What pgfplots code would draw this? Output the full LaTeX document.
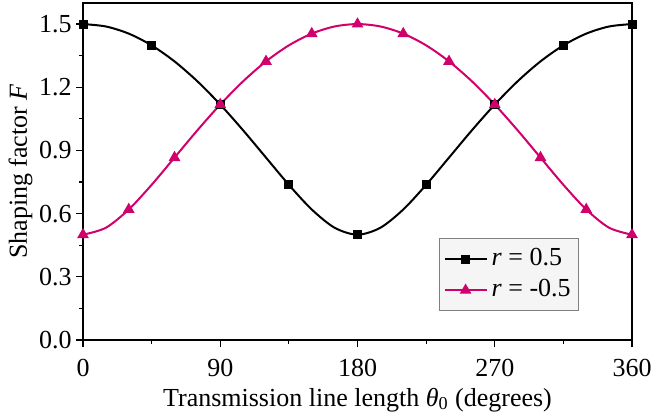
\documentclass[border=0pt]{standalone}
\usepackage{fontspec}
\setmainfont{LiberationSerif}[Extension=.ttf, UprightFont=*-Regular, BoldFont=*-Bold, ItalicFont=*-Italic, BoldItalicFont=*-BoldItalic]
\usepackage{pgfplots}
\pgfplotsset{compat=1.18}
\usetikzlibrary{calc}
\definecolor{mag}{RGB}{208,0,108}
\begin{document}
\fontsize{13}{15}\selectfont
\begin{tikzpicture}
\begin{axis}[
  name=ax,
  scale only axis,
  width=274.5pt, height=168.5pt,
  xmin=0, xmax=360, ymin=0, ymax=1.6,
  xtick={0,90,180,270,360},
  ytick={0,0.3,0.6,0.9,1.2,1.5},
  minor x tick num=1, minor y tick num=1,
  tick align=outside,
  xtick pos=left, ytick pos=left,
  major tick length=3.5pt, minor tick length=1.8pt,
  every tick/.style={black, line width=0.6pt},
  axis line style={line width=0.7pt},
  /pgf/number format/assume math mode=true,
  xticklabel style={yshift=-1.5pt},
  yticklabel style={/pgf/number format/.cd, fixed, fixed zerofill, precision=1, /tikz/.cd, inner xsep=2pt},
  xlabel={Transmission line length {\itshape θ}\textsubscript{0} (degrees)},
  ylabel={Shaping factor \textit{F}},
  xlabel style={at={(axis description cs:0.5,-0.196)}, anchor=base, inner sep=0pt},
  ylabel style={at={(axis description cs:-0.102,0.5)}, anchor=base, inner sep=0pt},
  legend style={at={(0.6485,0.3027)}, anchor=north west, draw=gray, fill=gray!8, line width=0.5pt, row sep=1pt, inner xsep=2pt, inner ysep=3pt},
  legend cell align=left,
  legend image code/.code={\draw[mark repeat=2,mark phase=2] plot coordinates {(0cm,0cm)(0.37cm,0cm)(0.74cm,0cm)};},
]
\addplot[black, line width=1pt, smooth, mark=square*, mark size=1.75pt, mark repeat=3, mark options={solid}] coordinates {
(0,1.5) (15,1.48860) (30,1.45466) (45,1.39897) (60,1.32288) (75,1.22834) (90,1.11803)
(105,0.99558) (120,0.86603) (135,0.73681) (150,0.61966) (165,0.53298) (180,0.5)
(195,0.53298) (210,0.61966) (225,0.73681) (240,0.86603) (255,0.99558) (270,1.11803)
(285,1.22834) (300,1.32288) (315,1.39897) (330,1.45466) (345,1.48860) (360,1.5)
};
\addlegendentry{\textit{r} = 0.5}
\addplot[mag, line width=1pt, smooth, mark=triangle*, mark size=2.4pt, mark repeat=2, mark options={solid}] coordinates {
(0,0.5) (15,0.53298) (30,0.61966) (45,0.73681) (60,0.86603) (75,0.99558) (90,1.11803)
(105,1.22834) (120,1.32288) (135,1.39897) (150,1.45466) (165,1.48860) (180,1.5)
(195,1.48860) (210,1.45466) (225,1.39897) (240,1.32288) (255,1.22834) (270,1.11803)
(285,0.99558) (300,0.86603) (315,0.73681) (330,0.61966) (345,0.53298) (360,0.5)
};
\addlegendentry{\textit{r} = -0.5}
\end{axis}
\pgfresetboundingbox
\path ($(ax.south west)+(-41.5pt,-37pt)$) rectangle ($(ax.north east)+(10pt,1.5pt)$);
\end{tikzpicture}
\end{document}
